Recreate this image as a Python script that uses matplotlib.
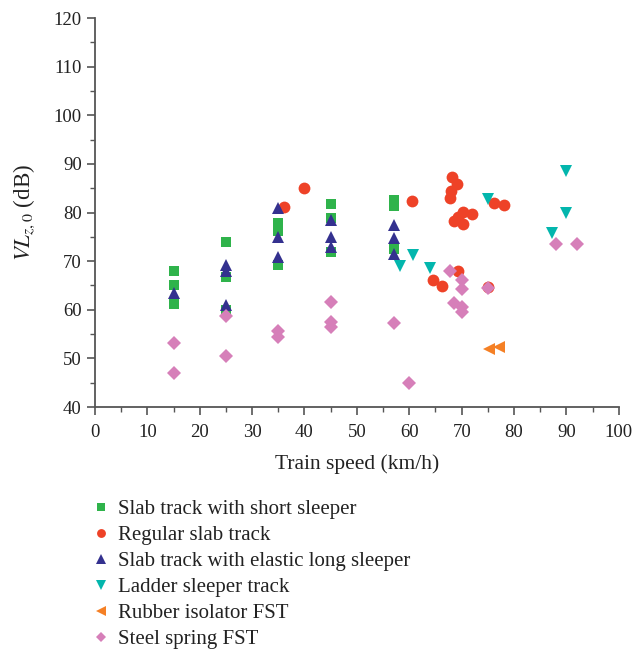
import matplotlib
matplotlib.use("Agg")
import matplotlib.pyplot as plt
from matplotlib.ticker import MultipleLocator

plt.rcParams['font.family'] = ['Liberation Serif', 'DejaVu Serif']
plt.rcParams['mathtext.fontset'] = 'stix'

# Slab track with short sleeper
short_x = [15, 15, 15, 25, 25, 25, 35, 35, 35, 45, 45, 45, 57, 57, 57]
short_y = [68, 65.1, 61.2, 74, 66.8, 60, 77.8, 76.3, 69.2, 81.8, 78.9, 71.8, 82.5, 81.3, 72.4]

# Regular slab track
regular_x = [36, 40, 60.6, 68.1, 69.2, 68, 67.7, 76.1, 78, 70.2, 72, 68.5, 70.2, 69.3,
             69.4, 64.6, 66.3, 75.1]
regular_y = [81.2, 85, 82.4, 87.4, 85.9, 84.5, 82.9, 82, 81.6, 80.1, 79.6, 78.3, 77.7, 79,
             68, 66.1, 64.9, 64.7]

# Slab track with elastic long sleeper
long_x = [15, 25, 25, 25, 35, 35, 35, 45, 45, 45, 57, 57, 57]
long_y = [63.4, 69.2, 68, 61, 81, 75, 70.8, 78.5, 75, 72.9, 77.4, 74.8, 71.5]

# Ladder sleeper track
ladder_x = [60.8, 58.3, 64, 75, 90, 90, 87.2]
ladder_y = [71.3, 69, 68.6, 82.8, 88.6, 79.9, 75.8]

# Rubber isolator FST
rubber_x = [75.2, 77.2]
rubber_y = [51.9, 52.3]

# Steel spring FST
spring_x = [15, 15, 25, 25, 35, 35, 45, 45, 45, 57, 60, 67.7, 70.1, 70.1, 75.1,
            68.5, 70.1, 70.1, 88.1, 92.1]
spring_y = [53.2, 47, 58.7, 50.4, 55.6, 54.4, 61.5, 57.4, 56.4, 57.3, 45, 68, 66.1, 64.3, 64.5,
            61.4, 60.5, 59.5, 73.6, 73.6]

series = [
    ("Slab track with short sleeper", short_x, short_y, 's', '#2fb34b', 7.5),
    ("Regular slab track", regular_x, regular_y, 'o', '#ee4227', 8.5),
    ("Slab track with elastic long sleeper", long_x, long_y, '^', '#34318f', 9),
    ("Ladder sleeper track", ladder_x, ladder_y, 'v', '#03b6ad', 9),
    ("Rubber isolator FST", rubber_x, rubber_y, '<', '#f58025', 9),
    ("Steel spring FST", spring_x, spring_y, 'D', '#d67fb9', 7),
]

fig = plt.figure(figsize=(6.34, 6.53), dpi=100)
ax = fig.add_axes([0.1498, 0.3767, 0.8262, 0.5957])

handles = []
for label, xs, ys, m, c, s in series:
    h, = ax.plot(xs, ys, linestyle='none', marker=m, color=c, markersize=s,
                 markeredgewidth=0, label=label, clip_on=False)
    handles.append(h)

ax.set_xlim(0, 100)
ax.set_ylim(40, 120)
ax.xaxis.set_major_locator(MultipleLocator(10))
ax.xaxis.set_minor_locator(MultipleLocator(5))
ax.yaxis.set_major_locator(MultipleLocator(10))
ax.yaxis.set_minor_locator(MultipleLocator(5))

for side in ['top', 'right']:
    ax.spines[side].set_visible(False)
for side in ['left', 'bottom']:
    ax.spines[side].set_color('#555555')
    ax.spines[side].set_linewidth(1.3)

ax.tick_params(which='major', direction='out', length=6, width=1.2, color='#555555',
               labelsize=13.5, labelcolor='#222222')
ax.tick_params(axis='x', which='major', pad=6)
ax.tick_params(which='minor', direction='out', length=3.5, width=1.0, color='#555555')

ax.set_xlabel("Train speed (km/h)", fontsize=15.5, color='#222222', labelpad=10)
ax.set_ylabel(r"$VL_{z,0}$ (dB)", fontsize=16.5, color='#222222', labelpad=12)

leg = fig.legend(handles=handles, loc='upper left', bbox_to_anchor=(0.13, 0.248),
                 frameon=False, fontsize=15, handlelength=1.0, handletextpad=0.3,
                 labelspacing=0.31, markerscale=0.75, borderaxespad=0)
for t in leg.get_texts():
    t.set_color('#222222')

fig.savefig("out.png", dpi=100)
